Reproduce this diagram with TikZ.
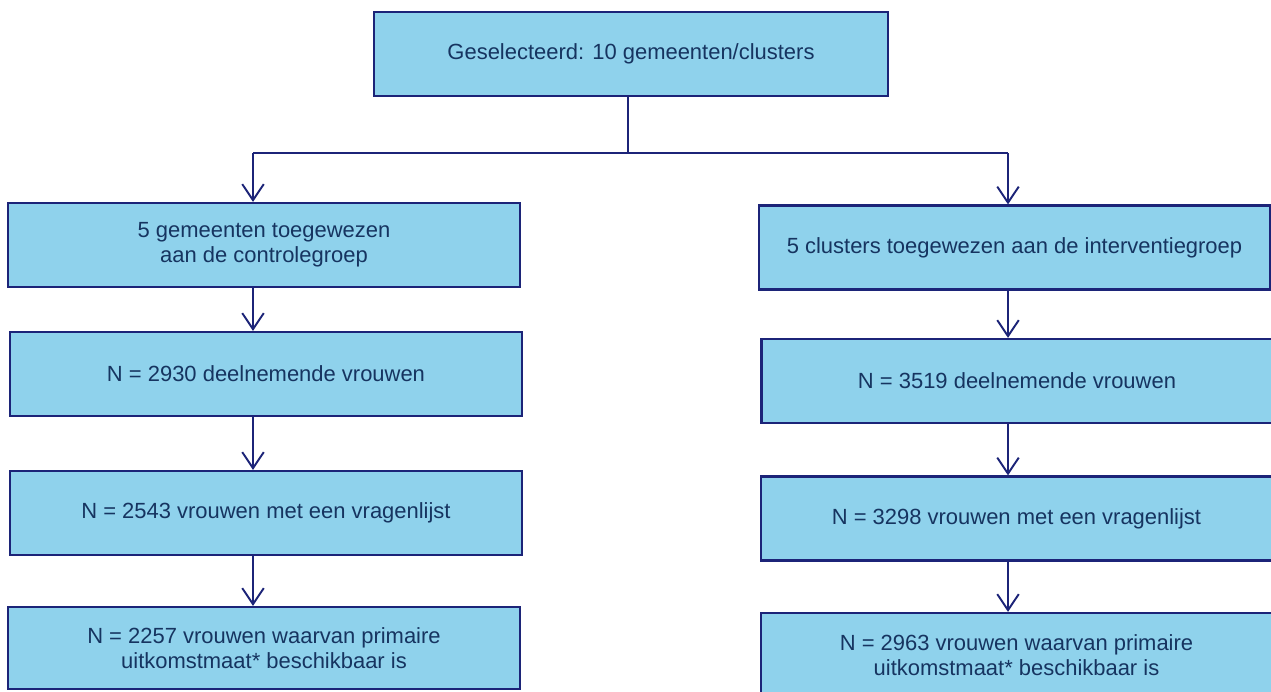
\documentclass[tikz,border=0pt]{standalone}
\usepackage{fontspec}
\setmainfont{Liberation Sans}
\usetikzlibrary{arrows.meta}
\definecolor{boxblue}{RGB}{143,210,236}
\definecolor{boxline}{RGB}{28,36,120}
\definecolor{boxtext}{RGB}{22,52,96}

\begin{document}
\begin{tikzpicture}[x = 0.02cm, y = -0.02cm,
    stage/.style = {draw = boxline, line width = 1.3pt, fill = boxblue, text = boxtext,
                    minimum height = 1.68cm, align = center, inner sep = 2pt,
                    font = \fontsize{12.5}{14.2}\selectfont},
    link/.style = {draw = boxline, line width = 0.8pt},
    flow/.style = {link, line width = 1.1pt, -{Straight Barb[length = 3.2mm, width = 4.3mm]}}]
                    \useasboundingbox (0,0) rectangle (1271,691);

                    \node[stage, minimum width = 10.28cm] (sel) at (631,54) {Geselecteerd: 10 gemeenten/clusters};

                    \node[stage, minimum width = 10.24cm] (ctrl) at (264,245) {5 gemeenten toegewezen\\aan de controlegroep};
                    \node[stage, minimum width = 10.24cm] (ctrlN) at (266,374) {N = 2930 deelnemende vrouwen};
                    \node[stage, minimum width = 10.24cm] (ctrlQ) at (266,513) {N = 2543 vrouwen met een vragenlijst};
                    \node[stage, minimum width = 10.24cm, minimum height = 1.64cm] (ctrlP) at (264,648) {N = 2257 vrouwen waarvan primaire\\uitkomstmaat* beschikbaar is};

                    \node[stage, minimum width = 10.22cm] (intv) at (1014.5,247.5) {5 clusters toegewezen aan de interventiegroep};
                    \node[stage, minimum width = 10.22cm] (intvN) at (1017,381) {N = 3519 deelnemende vrouwen};
                    \node[stage, minimum width = 10.22cm] (intvQ) at (1016.5,518.5) {N = 3298 vrouwen met een vragenlijst};
                    \node[stage, minimum width = 10.22cm] (intvP) at (1016.5,655) {N = 2963 vrouwen waarvan primaire\\uitkomstmaat* beschikbaar is};

                    \coordinate (split) at (628,153);
                    \coordinate (lft) at (253,153);
                    \coordinate (rgt) at (1008,153);

                    \draw[link] (sel.south -| split) -- (split);
                    \draw[link] (lft) -- (rgt);
                    \draw[flow] (lft) -- (ctrl.north -| lft);
                    \draw[flow] (rgt) -- (intv.north -| rgt);

                    \draw[flow] (ctrl.south -| lft) -- (ctrlN.north -| lft);
                    \draw[flow] (ctrlN.south -| lft) -- (ctrlQ.north -| lft);
                    \draw[flow] (ctrlQ.south -| lft) -- (ctrlP.north -| lft);

                    \draw[flow] (intv.south -| rgt) -- (intvN.north -| rgt);
                    \draw[flow] (intvN.south -| rgt) -- (intvQ.north -| rgt);
                    \draw[flow] (intvQ.south -| rgt) -- (intvP.north -| rgt);
\end{tikzpicture}
\end{document}
